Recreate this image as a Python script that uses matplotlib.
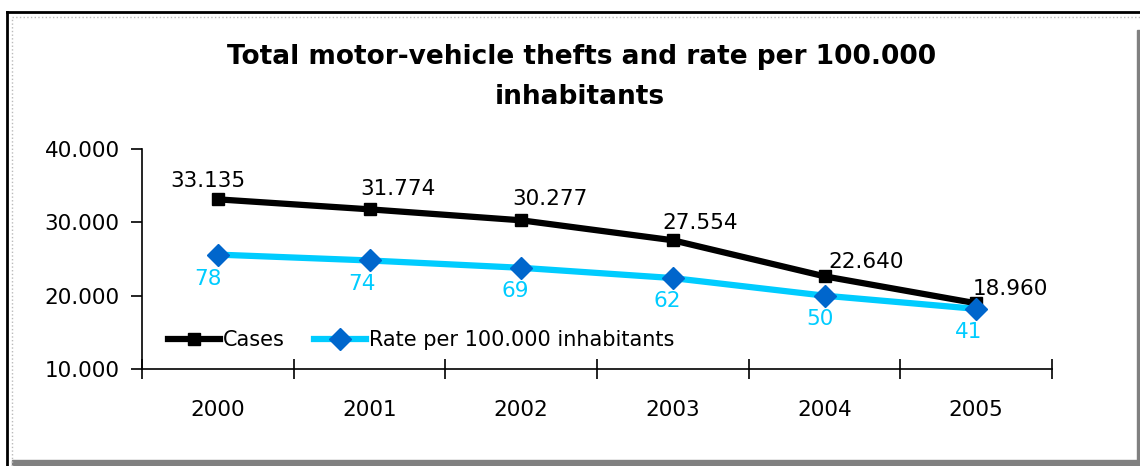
import matplotlib.pyplot as plt
from matplotlib.patches import Rectangle
from matplotlib.lines import Line2D

years = ['2000', '2001', '2002', '2003', '2004', '2005']
cases = [33135, 31774, 30277, 27554, 22640, 18960]
rate = [78, 74, 69, 62, 50, 41]
case_labels = ['33.135', '31.774', '30.277', '27.554', '22.640', '18.960']
y_ticks = [10000, 20000, 30000, 40000]
y_ticklabels = ['10.000', '20.000', '30.000', '40.000']

# label offsets in pixels (hand placed like the original)
case_off = [(-10, 18), (28, 20), (29, 21), (27, 17), (42, 14), (34, 14)]
rate_off = [(-10, -24), (-7, -24), (-6, -23), (-6, -23), (-5, -23), (-8, -23)]

plt.rcParams['font.family'] = 'DejaVu Sans'

fig = plt.figure(figsize=(11.4, 4.66), dpi=100)
W, H = 1140, 466

# outer frame
fig.add_artist(Line2D([7 / W, 1], [1 - 12 / H, 1 - 12 / H], color='black', lw=2, transform=fig.transFigure))
fig.add_artist(Line2D([7 / W, 7 / W], [0, 1 - 12 / H], color='black', lw=2, transform=fig.transFigure))
fig.add_artist(Line2D([12 / W, 1], [1 - 17 / H, 1 - 17 / H], color='#bbbbbb', lw=1, ls=':', transform=fig.transFigure))
fig.add_artist(Line2D([12 / W, 12 / W], [0, 1 - 17 / H], color='#bbbbbb', lw=1, ls=':', transform=fig.transFigure))
fig.add_artist(Rectangle((1137 / W, 0), 3 / W, 1 - 30 / H, color='#808080', transform=fig.transFigure))
fig.add_artist(Rectangle((12 / W, 0), 1 - 12 / W, 6 / H, color='#808080', transform=fig.transFigure))

ax = fig.add_axes([142 / W, 1 - 369 / H, 910 / W, 220 / H])
x = range(len(years))

l1, = ax.plot(x, cases, color='black', lw=4.5, marker='s', ms=8, label='Cases', zorder=3)
ax.set_xlim(-0.5, 5.5)
ax.set_ylim(10000, 40000)
ax.set_yticks(y_ticks)
ax.set_yticklabels(y_ticklabels, fontsize=15.5)
ax.set_xticks(list(x))
ax.set_xticklabels(years, fontsize=15.5)
ax.tick_params(axis='x', length=0, pad=22)
ax.set_xticks([i - 0.5 for i in range(7)], minor=True)
ax.tick_params(axis='x', which='minor', direction='inout', length=15, width=1.2)
ax.tick_params(axis='y', direction='out', length=8, width=1.2, pad=8)
for s in ['top', 'right']:
    ax.spines[s].set_visible(False)
for s in ['left', 'bottom']:
    ax.spines[s].set_linewidth(1.2)

for i, (c, t) in enumerate(zip(cases, case_labels)):
    ax.annotate(t, (i, c), xytext=case_off[i], textcoords='offset pixels',
                ha='center', va='center', fontsize=15.5, color='black')

ax2 = ax.twinx()
l2, = ax2.plot(x, rate, color='#00ccff', lw=4.5, marker='D', ms=11,
               mfc='#0066cc', mec='#0066cc', label='Rate per 100.000 inhabitants', zorder=3)
ax2.set_ylim(0, 150)
ax2.set_yticks([])
for s in ax2.spines.values():
    s.set_visible(False)
for i, r in enumerate(rate):
    ax2.annotate(str(r), (i, r), xytext=rate_off[i], textcoords='offset pixels',
                 ha='center', va='center', fontsize=15.5, color='#00ccff')

ax2.legend(handles=[l1, l2], loc='center left', bbox_to_anchor=(0.008, 0.13), ncol=2,
           frameon=False, fontsize=15, handlelength=2.5, handletextpad=0.15,
           columnspacing=1.4)

fig.text(582 / W, 1 - 57 / H, 'Total motor-vehicle thefts and rate per 100.000',
         ha='center', va='center', fontsize=19, fontweight='bold')
fig.text(580 / W, 1 - 97 / H, 'inhabitants',
         ha='center', va='center', fontsize=19, fontweight='bold')

fig.savefig('out.png', dpi=100)
